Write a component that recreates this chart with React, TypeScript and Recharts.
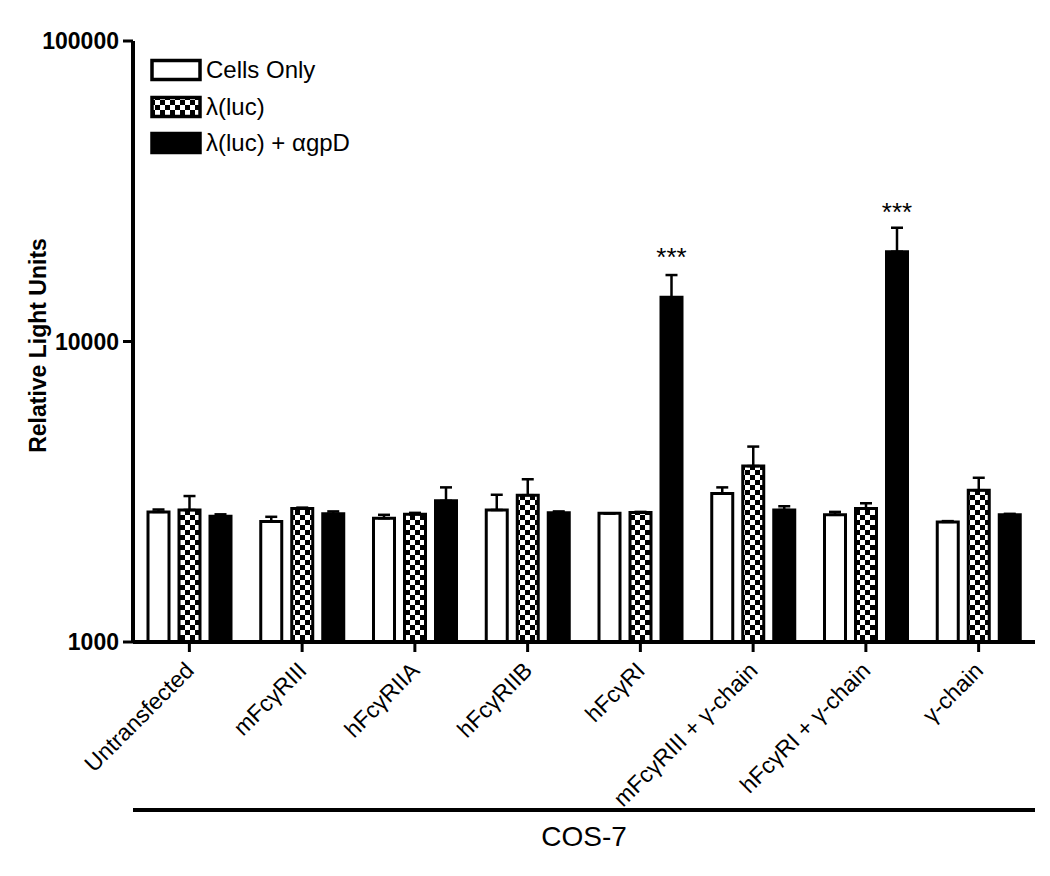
import React from 'react';
import {
    BarChart, Bar, XAxis, YAxis, ErrorBar, Legend, LabelList
} from 'recharts';

// cell lines (x categories)
const categories = [
    'Untransfected', 'mFcγRIII', 'hFcγRIIA', 'hFcγRIIB', 'hFcγRI',
    'mFcγRIII + γ-chain', 'hFcγRI + γ-chain', 'γ-chain'
];

// means
const cellsOnly = [2710, 2520, 2580, 2750, 2680, 3120, 2650, 2510];
const lambdaLuc = [2750, 2780, 2660, 3080, 2700, 3850, 2780, 3200];
const lambdaAb = [2620, 2670, 2950, 2690, 14030, 2750, 19900, 2650];

// upper error (SD) as distance above the mean
const cellsOnlyErr = [50, 90, 70, 340, 0, 150, 60, 15];
const lambdaLucErr = [310, 20, 30, 400, 10, 620, 115, 320];
const lambdaAbErr = [40, 50, 320, 30, 2610, 80, 4010, 20];

const significance = ['', '', '', '', '***', '', '***', ''];

const yTicks = [1000, 10000, 100000];

const data = categories.map((name, i) => ({
    name,
    cells: cellsOnly[i],
    cellsErr: [0, cellsOnlyErr[i]],
    luc: lambdaLuc[i],
    lucErr: [0, lambdaLucErr[i]],
    ab: lambdaAb[i],
    abErr: [0, lambdaAbErr[i]],
    stars: significance[i],
}));

const FONT = 'Arial, "Liberation Sans", Helvetica, sans-serif';

const SERIES = [
    { key: 'cells', label: 'Cells Only', fill: '#ffffff' },
    { key: 'luc', label: 'λ(luc)', fill: 'url(#checker)' },
    { key: 'ab', label: 'λ(luc) + αgpD', fill: '#000000' },
];

const XTick = (props: any) => {
    const { x, y, payload } = props;
    const tx = x + 6;
    const ty = y + 20;
    return (
        <text x={tx} y={ty} transform={`rotate(-45 ${tx} ${ty})`} textAnchor="end"
            fontSize={23} fontFamily={FONT} fill="#000">
            {payload.value}
        </text>
    );
};

const renderLegend = () => (
    <div style={{ fontFamily: FONT, fontSize: 24, color: '#000' }}>
        {SERIES.map(s => (
            <div key={s.key} style={{ display: 'flex', alignItems: 'center', height: 36.4 }}>
                <svg width={52} height={24}>
                    <rect x={2} y={2.5} width={48} height={19} fill={s.fill} stroke="#000" strokeWidth={3.5} />
                </svg>
                <span style={{ marginLeft: 4, whiteSpace: 'nowrap' }}>{s.label}</span>
            </div>
        ))}
    </div>
);

const Stars = (props: any) => {
    const { x, y, width, value } = props;
    if (!value) return null;
    return (
        <text x={x + width / 2} y={y - 31} textAnchor="middle" fontSize={26} fontFamily={FONT} fill="#000">
            {value}
        </text>
    );
};

export default function App() {
    return (
        <div style={{ position: 'absolute', left: 0, top: 0, background: '#fff' }}>
            <BarChart
                width={1050}
                height={876}
                data={data}
                margin={{ top: 41, right: 15, left: 33, bottom: 16 }}
                barSize={21}
                barGap={10}
            >
                <defs>
                    <pattern id="checker" width={10} height={10} patternUnits="userSpaceOnUse">
                        <rect width={10} height={10} fill="#000" />
                        <rect width={5} height={5} fill="#fff" />
                        <rect x={5} y={5} width={5} height={5} fill="#fff" />
                    </pattern>
                </defs>
                <XAxis
                    dataKey="name"
                    interval={0}
                    height={168}
                    tick={<XTick />}
                    tickSize={10}
                    tickMargin={0}
                    axisLine={{ stroke: '#000', strokeWidth: 4 }}
                    tickLine={{ stroke: '#000', strokeWidth: 3 }}
                />
                <XAxis
                    xAxisId="cos"
                    dataKey="name"
                    height={50}
                    tick={false}
                    tickLine={false}
                    axisLine={{ stroke: '#000', strokeWidth: 4 }}
                    label={{ value: 'COS-7', position: 'insideTop', offset: 16, fontSize: 28, fontFamily: FONT, fill: '#000' }}
                />
                <YAxis
                    scale="log"
                    type="number"
                    domain={[1000, 100000]}
                    ticks={yTicks}
                    allowDataOverflow
                    width={100}
                    tickFormatter={(v) => String(v)}
                    tick={{ fontSize: 23, fontWeight: 'bold', fontFamily: FONT, fill: '#000' }}
                    tickSize={10}
                    tickMargin={4}
                    axisLine={{ stroke: '#000', strokeWidth: 4 }}
                    tickLine={{ stroke: '#000', strokeWidth: 3 }}
                    label={{
                        content: ({ viewBox }: any) => {
                            const cx = viewBox.x + 5;
                            const cy = viewBox.y + viewBox.height / 2 + 4;
                            return (
                                <text x={cx} y={cy} transform={`rotate(-90 ${cx} ${cy})`} textAnchor="middle"
                                    dominantBaseline="central" fontSize={23} fontWeight="bold" fontFamily={FONT} fill="#000">
                                    Relative Light Units
                                </text>
                            );
                        }
                    }}
                />
                <Legend
                    layout="vertical"
                    align="center"
                    verticalAlign="middle"
                    wrapperStyle={{ left: 150, top: 52, width: 'auto' }}
                    content={renderLegend}
                />
                <Bar dataKey="cells" name="Cells Only" fill="#ffffff" stroke="#000" strokeWidth={3} isAnimationActive={false}>
                    <ErrorBar dataKey="cellsErr" direction="y" width={6} stroke="#000" strokeWidth={2.5} />
                </Bar>
                <Bar dataKey="luc" name="λ(luc)" fill="url(#checker)" stroke="#000" strokeWidth={3} isAnimationActive={false}>
                    <ErrorBar dataKey="lucErr" direction="y" width={6} stroke="#000" strokeWidth={2.5} />
                </Bar>
                <Bar dataKey="ab" name="λ(luc) + αgpD" fill="#000000" stroke="#000" strokeWidth={3} isAnimationActive={false}>
                    <ErrorBar dataKey="abErr" direction="y" width={6} stroke="#000" strokeWidth={2.5} />
                    <LabelList dataKey="stars" content={<Stars />} />
                </Bar>
            </BarChart>
        </div>
    );
}
